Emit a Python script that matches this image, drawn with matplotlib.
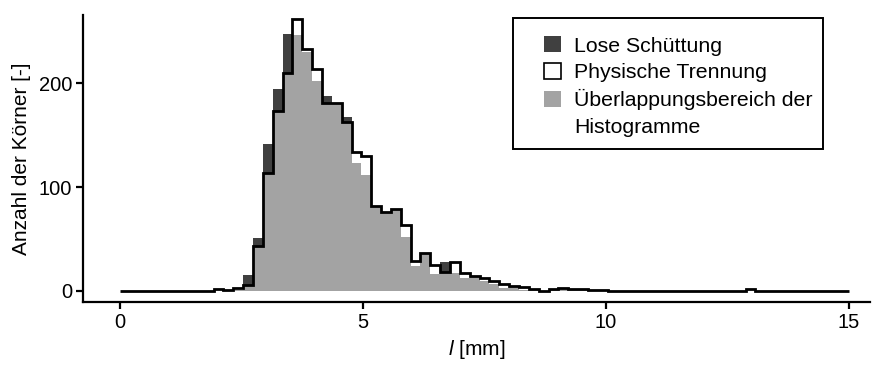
import numpy as np
import matplotlib
matplotlib.use("Agg")
import matplotlib.pyplot as plt
from matplotlib.patches import Patch, Rectangle

plt.rcParams['font.family'] = ['Liberation Sans', 'DejaVu Sans']
plt.rcParams['mathtext.fontset'] = 'custom'
plt.rcParams['mathtext.it'] = 'Liberation Sans:italic'
plt.rcParams['mathtext.rm'] = 'Liberation Sans'

# bin centres run from 0 to 15 mm (75 bins)
n_bins = 75
x_min, x_max = 0.0, 15.0

# counts per bin
phys = [0, 0, 0, 0, 0, 0, 0, 0, 0, 0,
        2, 1, 3, 6, 43, 114, 173, 210, 262, 233,
        214, 181, 181, 163, 134, 130, 82, 76, 79, 64,
        29, 37, 25, 18, 28, 17, 14, 13, 10, 7,
        5, 4, 2, 0, 2, 3, 2, 2, 1, 1,
        0, 0, 0, 0, 0, 0, 0, 0, 0, 0,
        0, 0, 0, 0, 2, 0, 0, 0, 0, 0,
        0, 0, 0, 0, 0]
lose = [0, 0, 0, 0, 0, 0, 0, 0, 0, 0,
        0, 0, 1, 15, 51, 142, 195, 248, 247, 230,
        202, 188, 180, 168, 123, 112, 82, 75, 79, 52,
        24, 37, 16, 28, 17, 13, 14, 10, 7, 3,
        4, 1, 1, 0, 1, 2, 1, 1, 0, 0,
        0, 0, 0, 0, 0, 0, 0, 0, 0, 0,
        0, 0, 0, 0, 0, 0, 0, 0, 0, 0,
        0, 0, 0, 0, 0]

labels = ["Lose Schüttung", "Physische Trennung",
          "Überlappungsbereich der", "Histogramme"]

phys = np.array(phys, dtype=float)
lose = np.array(lose, dtype=float)
centers = np.linspace(x_min, x_max, n_bins)
w = centers[1] - centers[0]
edges = np.concatenate([[x_min], centers[:-1] + w / 2, [x_max]])
overlap = np.minimum(phys, lose)

dark = '#404040'
grey = '#a3a3a3'

fig = plt.figure(figsize=(8.84, 3.70), dpi=100)
ax = fig.add_axes([0.0943, 0.1838, 0.8897, 0.7757])

ax.stairs(lose, edges, fill=True, color=dark, lw=0)
ax.stairs(overlap, edges, fill=True, color=grey, lw=0)
ax.stairs(phys, edges, color='black', lw=2, baseline=None)

ax.set_xlim(-0.755, 15.43)
ax.set_ylim(-10.6, 266)
ax.set_xticks([0, 5, 10, 15])
ax.set_yticks([0, 100, 200])

for s in ['top', 'right']:
    ax.spines[s].set_visible(False)
for s in ['left', 'bottom']:
    ax.spines[s].set_linewidth(1.6)
ax.tick_params(axis='both', length=5, width=1.6, labelsize=14.5, colors='black', pad=3)

ax.set_xlabel(r'$\mathit{l}$ [mm]', fontsize=15, labelpad=4)
ax.set_ylabel('Anzahl der Körner [-]', fontsize=15, labelpad=6)

# legend box
ax.add_patch(Rectangle((0.5464, 0.533), 0.3941, 0.4565, transform=ax.transAxes,
                       facecolor='white', edgecolor='black', lw=1.4, zorder=4))
handles = [Patch(facecolor=dark, edgecolor='none'),
           Patch(facecolor='white', edgecolor='black', lw=1.2),
           Patch(facecolor=grey, edgecolor='none'),
           Patch(visible=False)]
leg = ax.legend(handles, labels, loc='upper left', bbox_to_anchor=(0.586, 0.9265),
                borderaxespad=0, borderpad=0, fontsize=15.3, frameon=False,
                handlelength=0.8, handleheight=0.8, handletextpad=0.62,
                labelspacing=0.33)
leg.set_zorder(5)

fig.savefig('out.png', dpi=100)
